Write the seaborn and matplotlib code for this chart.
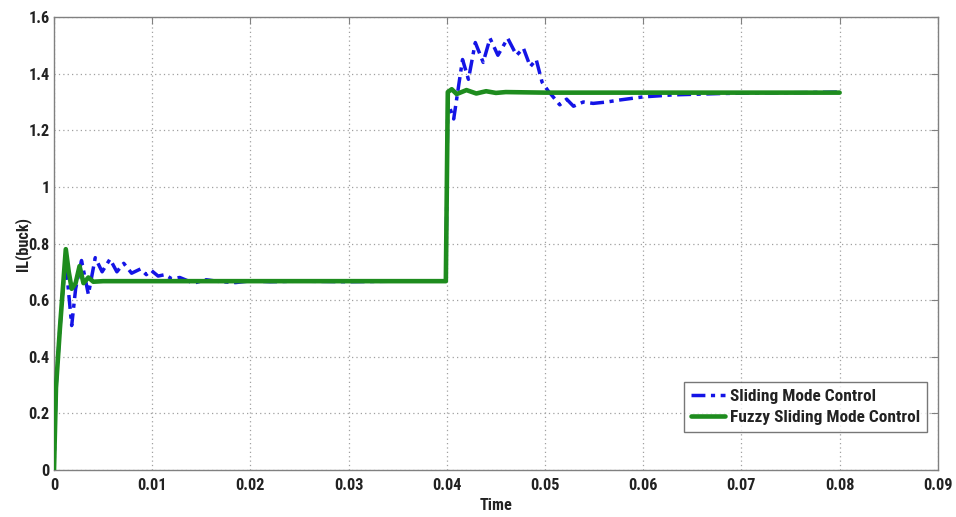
import numpy as np
import pandas as pd
import matplotlib
matplotlib.use("Agg")
import matplotlib.pyplot as plt
from matplotlib import font_manager as fm
from matplotlib.ticker import FuncFormatter
import seaborn as sns

# ---- data ----
smc_t = [0, 0.0002, 0.0006, 0.0011, 0.0014, 0.0018, 0.0022, 0.0028, 0.0035, 0.0042,
         0.0049, 0.0057, 0.0064, 0.0071, 0.0079, 0.0088, 0.0094, 0.0099, 0.0106, 0.0113,
         0.0120, 0.0128, 0.0135, 0.0142, 0.0155, 0.0170, 0.0185, 0.0200, 0.0220, 0.0250,
         0.0300, 0.0350, 0.0399, 0.0401, 0.0407, 0.0416, 0.0422, 0.0429, 0.0437, 0.0444,
         0.0452, 0.0462, 0.0471, 0.0478, 0.0485, 0.0491, 0.0497, 0.0503, 0.0515, 0.0522,
         0.0529, 0.0539, 0.0549, 0.0563, 0.0576, 0.0600, 0.0630, 0.0680, 0.0720, 0.0760,
         0.0800]
smc_v = [0, 0.29, 0.50, 0.72, 0.66, 0.51, 0.64, 0.74, 0.62, 0.75,
         0.70, 0.745, 0.70, 0.73, 0.695, 0.71, 0.69, 0.705, 0.685, 0.69,
         0.675, 0.68, 0.67, 0.66, 0.672, 0.665, 0.662, 0.668, 0.665, 0.667,
         0.665, 0.667, 0.667, 1.30, 1.24, 1.45, 1.38, 1.51, 1.44, 1.525,
         1.465, 1.525, 1.465, 1.49, 1.425, 1.45, 1.37, 1.34, 1.29, 1.31,
         1.285, 1.30, 1.295, 1.30, 1.307, 1.318, 1.325, 1.33, 1.332, 1.333,
         1.335]

fsmc_t = [0, 0.0002, 0.0006, 0.0012, 0.0015, 0.0018, 0.0022, 0.0026, 0.0030, 0.0035,
          0.0040, 0.0050, 0.0070, 0.0100, 0.0150, 0.0200, 0.0300, 0.0399, 0.0401, 0.0405,
          0.0410, 0.0420, 0.0430, 0.0440, 0.0450, 0.0460, 0.0500, 0.0600, 0.0700, 0.0800]
fsmc_v = [0, 0.29, 0.50, 0.78, 0.70, 0.64, 0.66, 0.72, 0.66, 0.68,
          0.665, 0.667, 0.667, 0.667, 0.667, 0.667, 0.667, 0.667, 1.335, 1.345,
          1.328, 1.342, 1.330, 1.338, 1.332, 1.335, 1.333, 1.333, 1.333, 1.333]

labels = ["Sliding Mode Control", "Fuzzy Sliding Mode Control"]
x_ticks = [0, 0.01, 0.02, 0.03, 0.04, 0.05, 0.06, 0.07, 0.08, 0.09]
y_ticks = [0, 0.2, 0.4, 0.6, 0.8, 1.0, 1.2, 1.4, 1.6]

sns.set_style("white")

# pick a narrow bold sans (Arial Narrow look-alike) if available
available = set(f.name for f in fm.fontManager.ttflist)
candidates = ["Liberation Sans Narrow", "Arial Narrow", "Roboto Condensed",
              "Archivo Narrow", "Barlow Semi Condensed", "Asap Condensed",
              "Liberation Sans", "DejaVu Sans"]
FAM = next(c for c in candidates if c in available)
plt.rcParams["font.family"] = [FAM, "DejaVu Sans"]

fig = plt.figure(figsize=(9.56, 5.17), dpi=100)

# size the font so that "0.04" is ~29 px wide as in the reference
renderer = fig.canvas.get_renderer()
probe = fig.text(0, 0, "0.04", fontsize=10, fontweight="bold")
w = probe.get_window_extent(renderer).width
probe.remove()
FS = 10 * 29.5 / w
FS = min(max(FS, 9.0), 14.5)

ax = fig.add_axes([0.0565, 0.091, 0.9245, 0.876])

df_smc = pd.DataFrame({"Time": smc_t, "IL": smc_v})
df_fsmc = pd.DataFrame({"Time": fsmc_t, "IL": fsmc_v})

sns.lineplot(data=df_smc, x="Time", y="IL", ax=ax, color="#1414e6", lw=2.5,
             estimator=None, sort=False, label=labels[0], zorder=3)
ax.lines[-1].set_dashes([4, 1.6, 1.2, 1.6])
sns.lineplot(data=df_fsmc, x="Time", y="IL", ax=ax, color="#1e8c1e", lw=3.3,
             estimator=None, sort=False, label=labels[1], zorder=4)

ax.set_xlim(0, 0.09)
ax.set_ylim(0, 1.6)
ax.set_xticks(x_ticks)
ax.set_yticks(y_ticks)
fmt = FuncFormatter(lambda v, p: "%g" % round(v, 4))
ax.xaxis.set_major_formatter(fmt)
ax.yaxis.set_major_formatter(fmt)

ax.grid(True, linestyle=(0, (1, 2.5)), color="#a0a0a0", lw=0.9)
ax.tick_params(direction="in", top=True, right=True, length=5, width=0.8,
               color="#808080", labelsize=FS)
ax.tick_params(axis="x", pad=6)
ax.tick_params(axis="y", pad=3)
for lab in ax.get_xticklabels() + ax.get_yticklabels():
    lab.set_fontweight("bold")
    lab.set_color("#222222")
for s in ax.spines.values():
    s.set_color("#808080")
    s.set_linewidth(1.0)

ax.set_xlabel("Time", fontsize=FS, fontweight="bold", color="#222222", va="center")
ax.set_ylabel("IL(buck)", fontsize=FS, fontweight="bold", color="#222222", va="center")
ax.xaxis.set_label_coords(0.5, -0.078)
ax.yaxis.set_label_coords(-0.036, 0.5)

leg = ax.legend(loc="lower right", bbox_to_anchor=(0.997, 0.065), frameon=True,
                fancybox=False, edgecolor="#555555", fontsize=FS * 1.06,
                handlelength=2.0, handletextpad=0.25, borderpad=0.4, labelspacing=0.35)
for t in leg.get_texts():
    t.set_fontweight("bold")
    t.set_color("#222222")
leg.get_frame().set_linewidth(1.0)

fig.savefig("out.png", dpi=100, facecolor="white")
